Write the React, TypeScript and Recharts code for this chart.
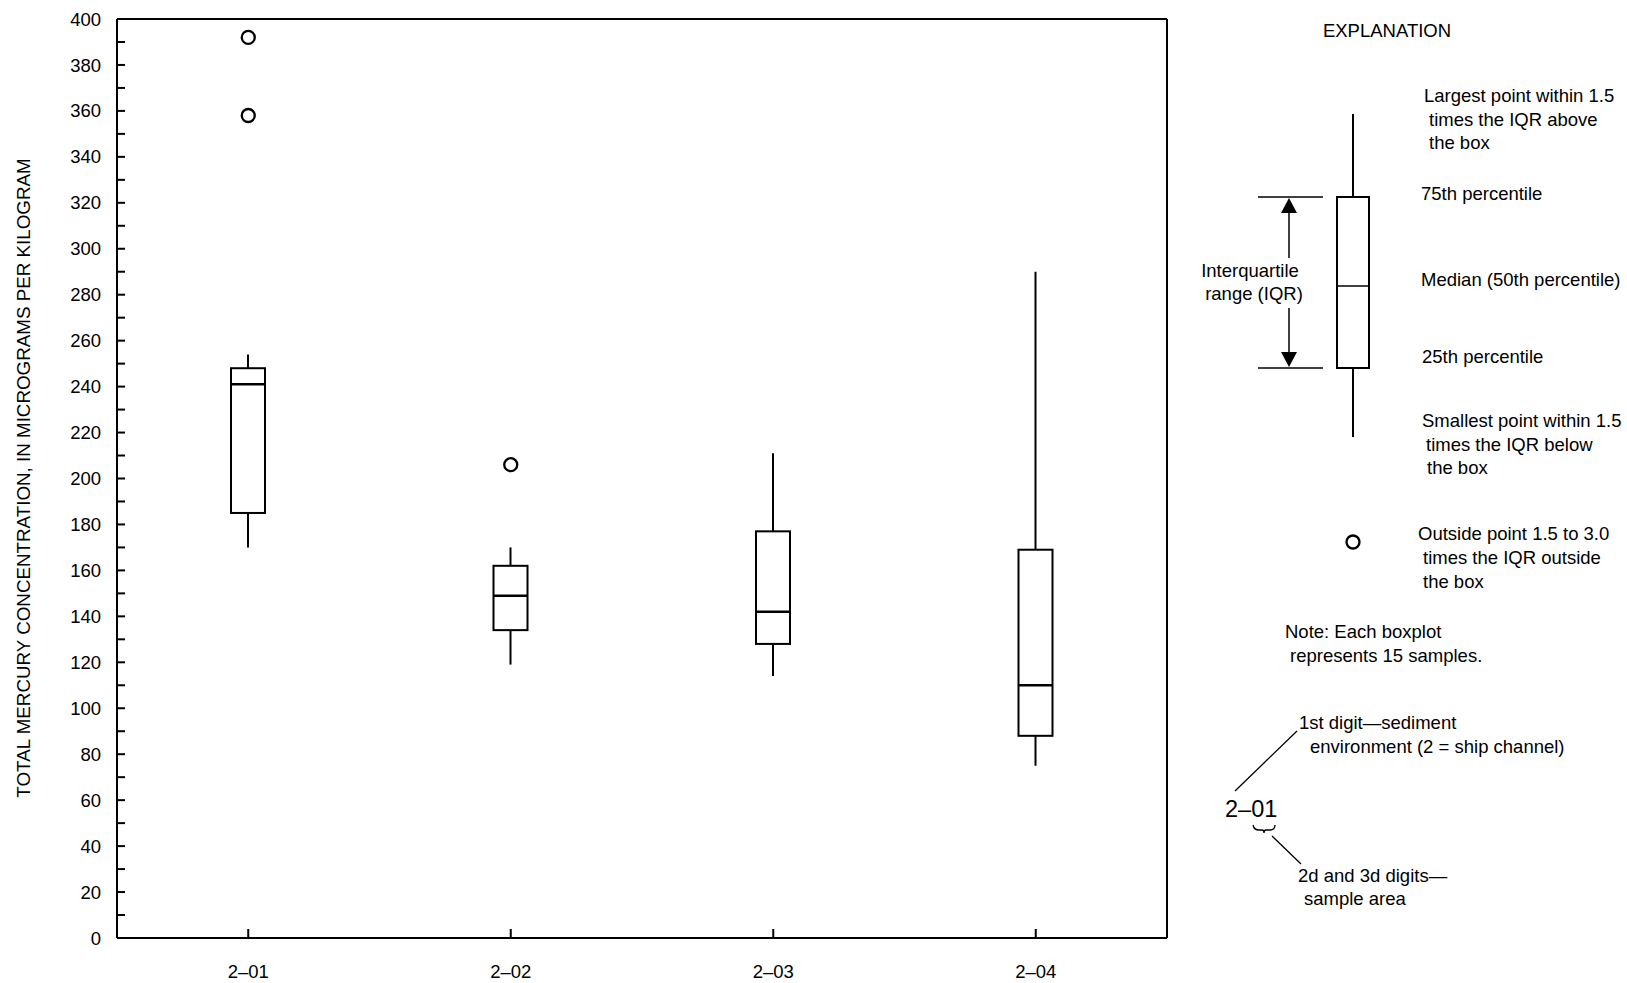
import React from 'react';
import { ComposedChart, Bar, Scatter, XAxis, YAxis, Customized } from 'recharts';

// sample areas (ship channel)
const sites = ['2–01', '2–02', '2–03', '2–04'];
const whiskerLow = [170, 119, 114, 75];
const q1 = [185, 134, 128, 88];
const median = [241, 149, 142, 110];
const q3 = [248, 162, 177, 169];
const whiskerHigh = [254, 170, 211, 290];

// outside points
const outlierSites = ['2–01', '2–01', '2–02'];
const outlierValues = [392, 358, 206];

const yTicks = [
  0, 10, 20, 30, 40, 50, 60, 70, 80, 90, 100, 110, 120, 130, 140, 150, 160, 170, 180, 190, 200,
  210, 220, 230, 240, 250, 260, 270, 280, 290, 300, 310, 320, 330, 340, 350, 360, 370, 380, 390, 400,
];
const yLabelTicks = [0, 20, 40, 60, 80, 100, 120, 140, 160, 180, 200, 220, 240, 260, 280, 300, 320, 340, 360, 380, 400];

const yTitle = 'TOTAL MERCURY CONCENTRATION, IN MICROGRAMS PER KILOGRAM';

const boxData = sites.map((site, i) => ({
  site,
  whisker: [whiskerLow[i], whiskerHigh[i]],
  box: [q1[i], q3[i]],
  median: median[i],
}));

const outlierData = outlierSites.map((site, i) => ({ site, value: outlierValues[i] }));

const FONT = '"Liberation Sans", Arial, Helvetica, sans-serif';
const INK = '#000';

const WhiskerShape = (props: any) => {
  const { x, y, width, height } = props;
  const cx = x + width / 2;
  return <line x1={cx} x2={cx} y1={y} y2={y + height} stroke={INK} strokeWidth={2} />;
};

const BoxShape = (props: any) => {
  const { x, y, width, height } = props;
  const top = Math.min(y, y + height);
  return <rect x={x} y={top} width={width} height={Math.abs(height)} fill="#fff" stroke={INK} strokeWidth={2} />;
};

const MedianShape = (props: any) => {
  const { cx, cy } = props;
  return <line x1={cx - 17} x2={cx + 17} y1={cy} y2={cy} stroke={INK} strokeWidth={2.5} />;
};

const OutlierShape = (props: any) => (
  <circle cx={props.cx} cy={props.cy} r={6.5} fill="#fff" stroke={INK} strokeWidth={2.3} />
);

const T = ({ x, y, children, size = 18.5, anchor = 'start' }: any) => (
  <text x={x} y={y} fontSize={size} fontFamily={FONT} fill={INK} textAnchor={anchor}>
    {children}
  </text>
);

// explanation panel on the right
const Explanation = () => (
  <g>
    <text transform="translate(30,478) rotate(-90)" fontSize={18.8} fontFamily={FONT} fill={INK} textAnchor="middle">
      {yTitle}
    </text>

    <T x={1387} y={37} anchor="middle">EXPLANATION</T>

    {/* example boxplot */}
    <line x1={1353} x2={1353} y1={114} y2={197} stroke={INK} strokeWidth={2} />
    <line x1={1353} x2={1353} y1={368} y2={437} stroke={INK} strokeWidth={2} />
    <rect x={1337} y={197} width={32} height={171} fill="#fff" stroke={INK} strokeWidth={2} />
    <line x1={1337} x2={1370} y1={286} y2={286} stroke={INK} strokeWidth={1.5} />

    <line x1={1258} x2={1323} y1={197} y2={197} stroke={INK} strokeWidth={1.5} />
    <line x1={1258} x2={1323} y1={368} y2={368} stroke={INK} strokeWidth={1.5} />
    <line x1={1289} x2={1289} y1={212} y2={258} stroke={INK} strokeWidth={1.5} />
    <polygon points="1289,198 1281,213 1297,213" fill={INK} />
    <line x1={1289} x2={1289} y1={308} y2={353} stroke={INK} strokeWidth={1.5} />
    <polygon points="1289,367 1281,352 1297,352" fill={INK} />
    <T x={1250} y={277} anchor="middle">Interquartile</T>
    <T x={1254} y={300} anchor="middle">range (IQR)</T>

    <T x={1424} y={102}>Largest point within 1.5</T>
    <T x={1429} y={126}>times the IQR above</T>
    <T x={1429} y={149}>the box</T>
    <T x={1421} y={200}>75th percentile</T>
    <T x={1421} y={286}>Median (50th percentile)</T>
    <T x={1422} y={363}>25th percentile</T>
    <T x={1422} y={427}>Smallest point within 1.5</T>
    <T x={1426} y={451}>times the IQR below</T>
    <T x={1427} y={474}>the box</T>

    <circle cx={1353} cy={542} r={6.5} fill="#fff" stroke={INK} strokeWidth={2.3} />
    <T x={1418} y={540}>Outside point 1.5 to 3.0</T>
    <T x={1423} y={564}>times the IQR outside</T>
    <T x={1423} y={588}>the box</T>

    <T x={1285} y={638}>Note: Each boxplot</T>
    <T x={1290} y={662}>represents 15 samples.</T>

    {/* site code key */}
    <T x={1299} y={729}>1st digit—sediment</T>
    <T x={1310} y={753}>environment (2 = ship channel)</T>
    <line x1={1297} y1={731} x2={1235} y2={791} stroke={INK} strokeWidth={1.3} />
    <T x={1225} y={817} size={23.5}>2–01</T>
    <path d="M1253,825 Q1254,830 1259,830 L1262,830 Q1264,830 1264,833 Q1264,830 1266,830 L1270,830 Q1275,830 1275,825" fill="none" stroke={INK} strokeWidth={1.3} />
    <line x1={1272} y1={836} x2={1301} y2={864} stroke={INK} strokeWidth={1.3} />
    <T x={1298} y={882}>2d and 3d digits—</T>
    <T x={1304} y={905}>sample area</T>
  </g>
);

const tickStyle = { fontSize: 18.5, fill: INK, fontFamily: FONT };
const lineStyle = { stroke: INK, strokeWidth: 2 };

export default function App() {
  return (
    <div style={{ position: 'absolute', left: 0, top: 0, background: '#fff' }}>
      <ComposedChart width={1627} height={983} data={boxData} margin={{ top: 0, right: 0, bottom: 0, left: 0 }}>
        <XAxis
          dataKey="site"
          allowDuplicatedCategory={false}
          interval={0}
          height={45}
          tickSize={-9}
          tickMargin={36}
          tick={tickStyle}
          axisLine={lineStyle}
          tickLine={lineStyle}
        />
        <XAxis
          xAxisId="top"
          dataKey="site"
          orientation="top"
          interval={0}
          height={19}
          tickSize={-9}
          tick={false}
          axisLine={lineStyle}
          tickLine={lineStyle}
        />
        <YAxis
          type="number"
          domain={[0, 400]}
          ticks={yTicks}
          interval={0}
          width={117}
          tickSize={-8}
          tickMargin={24}
          tick={tickStyle}
          tickFormatter={(v: number) => (yLabelTicks.includes(v) ? String(v) : '')}
          axisLine={lineStyle}
          tickLine={lineStyle}
        />
        <YAxis
          yAxisId="right"
          orientation="right"
          type="number"
          domain={[0, 400]}
          ticks={yTicks}
          interval={0}
          width={460}
          tickSize={-8}
          tick={false}
          axisLine={lineStyle}
          tickLine={lineStyle}
        />
        <Bar xAxisId="top" dataKey="whisker" barSize={34} shape={WhiskerShape} isAnimationActive={false} />
        <Bar dataKey="box" barSize={34} shape={BoxShape} isAnimationActive={false} />
        <Scatter dataKey="median" shape={MedianShape} isAnimationActive={false} />
        <Scatter data={outlierData} dataKey="value" shape={OutlierShape} isAnimationActive={false} />
        <Customized component={Explanation} />
      </ComposedChart>
    </div>
  );
}
